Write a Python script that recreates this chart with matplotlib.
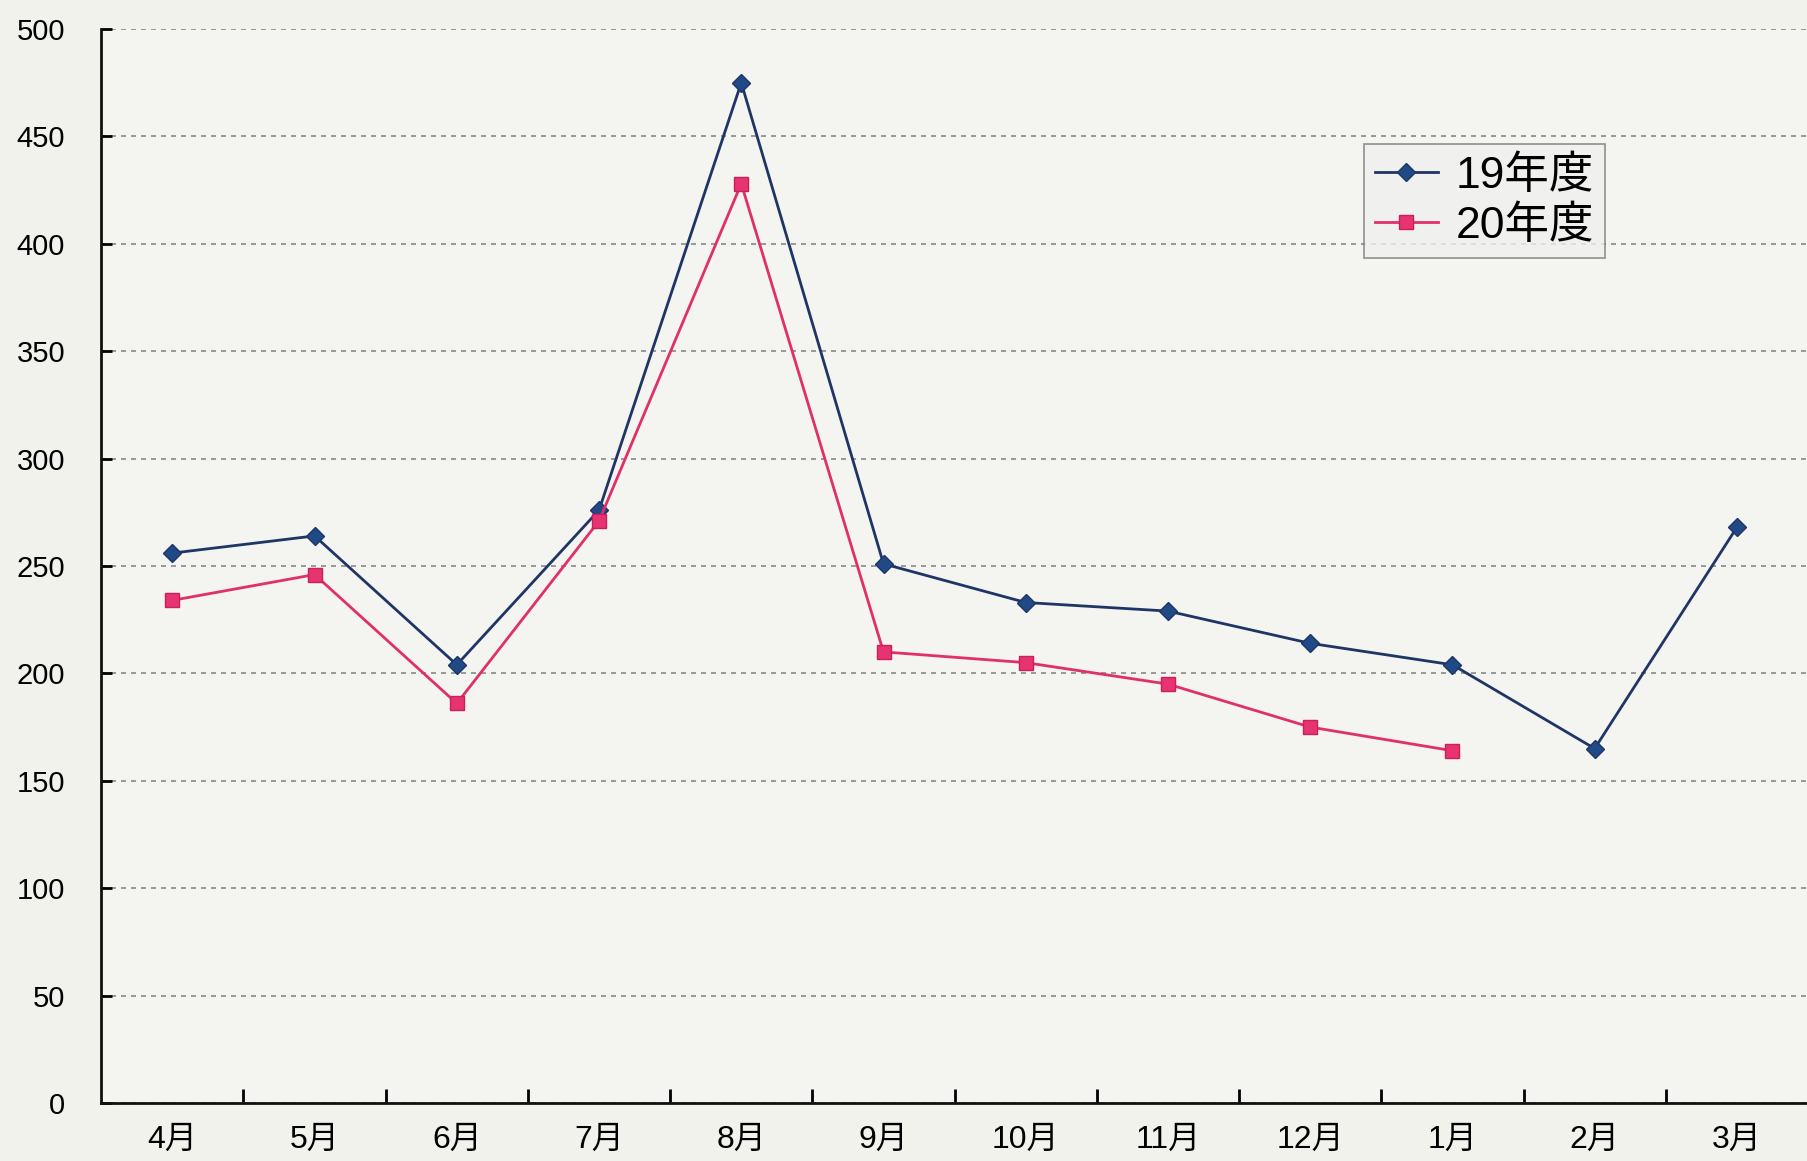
import matplotlib
matplotlib.use('Agg')
import matplotlib.pyplot as plt

plt.rcParams['font.family'] = ['Liberation Sans', 'Noto Sans CJK JP', 'DejaVu Sans']

months = ['4月', '5月', '6月', '7月', '8月', '9月', '10月', '11月', '12月', '1月', '2月', '3月']
fy19 = [256, 264, 204, 276, 475, 251, 233, 229, 214, 204, 165, 268]
fy20 = [234, 246, 186, 271, 428, 210, 205, 195, 175, 164]

bg = '#f2f2ec'
fig = plt.figure(figsize=(18.08, 11.61), dpi=100, facecolor=bg)
ax = fig.add_axes([0.056, 0.05, 0.944, 0.925], facecolor='#f4f4f0')

x = list(range(len(months)))
ax.plot(x, fy19, color='#1f3566', lw=2, marker='D', ms=9,
        mfc='#1f4a86', mec='#1f3566', label='19年度')
ax.plot(x[:len(fy20)], fy20, color='#e0306a', lw=2, marker='s', ms=10,
        mfc='#e83372', mec='#c8205a', label='20年度')

ax.set_xlim(-0.5, 11.5)
ax.set_ylim(0, 500)
ax.set_yticks(range(0, 501, 50))
ax.set_xticks(x)
ax.set_xticklabels(months)
ax.set_xticks([i + 0.5 for i in range(11)], minor=True)
ax.tick_params(axis='x', which='major', length=0, labelsize=23, pad=16)
ax.tick_params(axis='x', which='minor', length=10, direction='in', width=2)
ax.tick_params(axis='y', length=8, direction='in', width=2, labelsize=21, pad=26)
ax.yaxis.grid(True, ls=(0, (3, 3)), color='#888888', lw=1.2)
for s in ['top', 'right']:
    ax.spines[s].set_visible(False)
for s in ['left', 'bottom']:
    ax.spines[s].set_linewidth(2)
    ax.spines[s].set_color('#111111')

leg = ax.legend(loc='upper left', bbox_to_anchor=(0.740, 0.893), borderaxespad=0,
                fontsize=32, frameon=True, fancybox=False, edgecolor='#777777',
                facecolor='#f0f0ee', handlelength=1.4, borderpad=0.25,
                labelspacing=0.2, handletextpad=0.4)
leg.get_frame().set_linewidth(1.2)

fig.savefig('out.png', dpi=100, facecolor=bg)
